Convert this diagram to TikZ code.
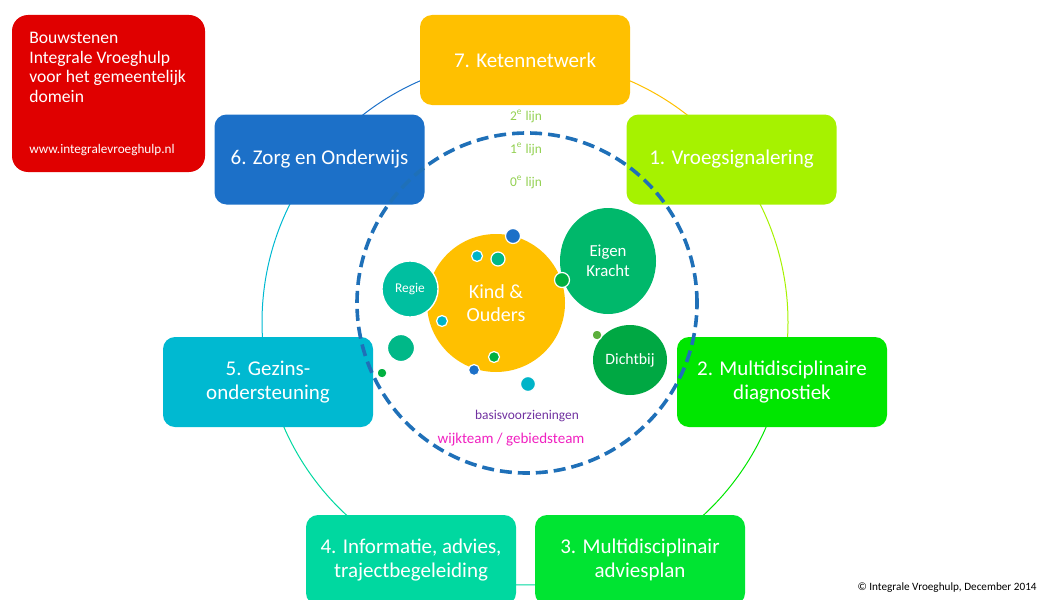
\documentclass[tikz,border=0pt]{standalone}
\usepackage{fontspec}
\setmainfont{Carlito}
\usepackage{tikz}
\usetikzlibrary{shapes.geometric}

\definecolor{introred}{HTML}{E00000}
\definecolor{keten}{HTML}{FFC000}
\definecolor{zorg}{HTML}{1C70C8}
\definecolor{vroeg}{HTML}{A6F200}
\definecolor{gezin}{HTML}{00B9D1}
\definecolor{diagn}{HTML}{00E600}
\definecolor{info}{HTML}{00D8A0}
\definecolor{advies}{HTML}{00E432}
\definecolor{dashblue}{HTML}{1F70B8}
\definecolor{eigen}{HTML}{00B86B}
\definecolor{regie}{HTML}{00BFA0}
\definecolor{dicht}{HTML}{00A843}
\definecolor{dotcyan}{HTML}{00B4C8}
\definecolor{dotteal}{HTML}{00B888}
\definecolor{dotgreen}{HTML}{00B040}
\definecolor{dotolive}{HTML}{5CAF3C}
\definecolor{lijngreen}{HTML}{92D050}
\definecolor{basis}{HTML}{7030A0}
\definecolor{wijk}{HTML}{F020C0}

\begin{document}
\begin{tikzpicture}[x=0.5pt, y=-0.5pt,
  block/.style={rectangle, rounded corners=6pt, minimum width=105pt, minimum height=45pt,
    inner sep=0pt, text=white, align=center, font=\fontsize{10.5}{12}\selectfont},
  bubble/.style={circle, inner sep=0pt, text=white, align=center},
  dot/.style={circle, inner sep=0pt, draw=white, line width=0.6pt},
  lijn/.style={text=lijngreen, inner sep=0pt, font=\fontsize{6.7}{8}\selectfont},
  ring/.style={line width=0.5pt}]

  \useasboundingbox (0,0) rectangle (1042,599);

  % Outer ring, one arc per pair of blocks
  \coordinate (ringc) at (525,322);
  \draw[ring, keten] ([shift={(90:131.5pt)}]ringc) arc[start angle=90, end angle=38.2, radius=131.5pt];
  \draw[ring, vroeg] ([shift={(38.2:131.5pt)}]ringc) arc[start angle=38.2, end angle=-13.1, radius=131.5pt];
  \draw[ring, diagn] ([shift={(-13.1:131.5pt)}]ringc) arc[start angle=-13.1, end angle=-64.2, radius=131.5pt];
  \draw[ring, info] ([shift={(-64.2:131.5pt)}]ringc) arc[start angle=-64.2, end angle=-115.6, radius=131.5pt];
  \draw[ring, info] ([shift={(-115.6:131.5pt)}]ringc) arc[start angle=-115.6, end angle=-166.9, radius=131.5pt];
  \draw[ring, gezin] ([shift={(-166.9:131.5pt)}]ringc) arc[start angle=-166.9, end angle=-218.3, radius=131.5pt];
  \draw[ring, zorg] ([shift={(-218.3:131.5pt)}]ringc) arc[start angle=-218.3, end angle=-270, radius=131.5pt];

  % Title block
  \node[rectangle, rounded corners=8pt, fill=introred, minimum width=96.5pt, minimum height=78.5pt] (intro) at (108.5,93.5) {};
  \node[anchor=north west, inner sep=0pt, text=white, align=left, font=\fontsize{8.8}{9.75}\selectfont] (title) at (29,32)
    {Bouwstenen\\Integrale Vroeghulp\\voor het gemeentelijk\\domein};
  \node[anchor=base west, inner sep=0pt, text=white, font=\fontsize{6.6}{8}\selectfont] (url) at (29,153) {www.integralevroeghulp.nl};

  % The seven building blocks
  \node[block, fill=keten] (b7) at (525,60) {7. Ketennetwerk};
  \node[block, fill=vroeg] (b1) at (731.5,159.5) {1. Vroegsignalering};
  \node[block, fill=diagn] (b2) at (782,382) {2. Multidisciplinaire\\diagnostiek};
  \node[block, fill=advies] (b3) at (640,560) {3. Multidisciplinair\\adviesplan};
  \node[block, fill=info] (b4) at (411,560) {4. Informatie, advies,\\trajectbegeleiding};
  \node[block, fill=gezin] (b5) at (268,382) {5. Gezins-\\ondersteuning};
  \node[block, fill=zorg] (b6) at (319.5,159.5) {6. Zorg en Onderwijs};

  % Dashed border of the neighbourhood
  \coordinate (dashc) at (527,303);
  \draw[dashblue, line width=1.8pt, dash pattern=on 6pt off 3pt] (dashc) circle[radius=85pt];

  % Line labels
  \node[lijn] (lijn2) at (526,116) {2\textsuperscript{e} lijn};
  \node[lijn] (lijn1) at (526,149) {1\textsuperscript{e} lijn};
  \node[lijn] (lijn0) at (526,182) {0\textsuperscript{e} lijn};

  % Child and parents with their surroundings
  \node[bubble, fill=keten, minimum size=69pt, font=\fontsize{10}{11.5}\selectfont] (kind) at (496,303) {Kind \&\\Ouders};
  \node[bubble, fill=regie, minimum size=28pt, draw=white, line width=0.7pt, font=\fontsize{6.7}{8}\selectfont] (regie) at (410,289) {Regie};
  \node[ellipse, inner sep=0pt, fill=eigen, text=white, align=center, minimum width=48pt, minimum height=53pt,
    font=\fontsize{8.4}{10}\selectfont] (eigen) at (608,261) {Eigen\\Kracht};
  \node[ellipse, inner sep=0pt, fill=dicht, text=white, minimum width=37pt, minimum height=35pt,
    font=\fontsize{7.9}{9}\selectfont] (dicht) at (630,360) {Dichtbij};

  % Small dots
  \node[dot, fill=zorg, minimum size=7.5pt] (dot1) at (513,236) {};
  \node[dot, fill=dotcyan, minimum size=5.5pt] (dot2) at (477,256) {};
  \node[dot, fill=dotteal, minimum size=7pt] (dot3) at (498,259) {};
  \node[dot, fill=dotgreen, minimum size=7.5pt] (dot4) at (562,280) {};
  \node[dot, fill=dotcyan, minimum size=5.5pt] (dot5) at (442,321) {};
  \node[dot, fill=dotgreen, minimum size=5.5pt] (dot6) at (494,357) {};
  \node[dot, fill=zorg, minimum size=5.5pt] (dot7) at (474,370) {};
  \node[dot, fill=dotcyan, minimum size=7.5pt] (dot8) at (528,384) {};
  \node[dot, fill=dotteal, minimum size=13.5pt] (dot9) at (401,348) {};
  \node[dot, fill=dotgreen, minimum size=5pt] (dot10) at (382,373) {};
  \node[dot, fill=dotolive, minimum size=5pt] (dot11) at (597,335) {};

  % Bottom labels
  \node[text=basis, inner sep=0pt, font=\fontsize{6.7}{8}\selectfont] (basisv) at (527,416) {basisvoorzieningen};
  \node[text=wijk, inner sep=0pt, font=\fontsize{7.5}{9}\selectfont] (wijkt) at (511,440) {wijkteam / gebiedsteam};
  \node[anchor=east, inner sep=0pt, font=\fontsize{5.6}{7}\selectfont] (copyr) at (1037,588) {© Integrale Vroeghulp, December 2014};

\end{tikzpicture}
\end{document}
